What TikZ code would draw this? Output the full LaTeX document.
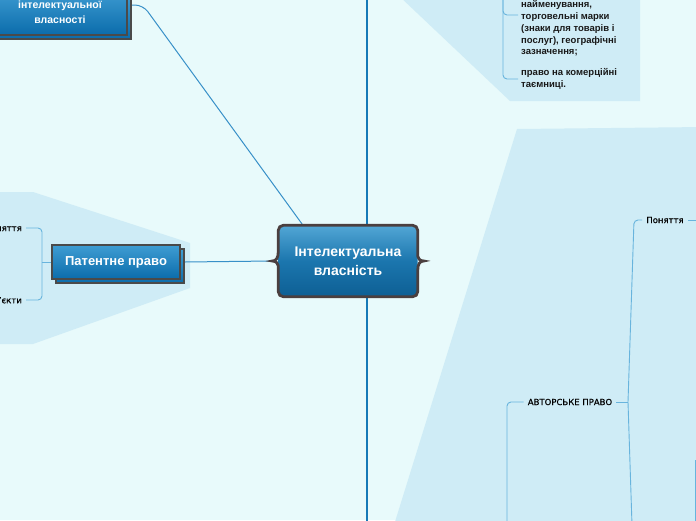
\documentclass[tikz,border=0pt]{standalone}
\usepackage{fontspec}
\setmainfont{Liberation Sans}
\newfontfamily\leaffont[FakeBold=0.5]{DejaVu Sans}
\usetikzlibrary{positioning, calc, shadows, backgrounds}
\definecolor{cbg}{HTML}{E8FAFB}
\definecolor{cpanel}{HTML}{CFECF6}
\definecolor{ctrunk}{HTML}{1679B7}
\definecolor{clink}{HTML}{3890C8}
\definecolor{csub}{HTML}{68B4DD}
\definecolor{cedge}{HTML}{4A4A4A}
\definecolor{croot}{HTML}{4B3F3F}
\definecolor{ctop}{HTML}{3F9DD3}
\definecolor{cbot}{HTML}{0B6CAB}
\definecolor{crootA}{HTML}{52A6D5}
\definecolor{crootB}{HTML}{1B76AE}
\definecolor{crootC}{HTML}{0E5F94}
\tikzset{
  every picture/.style={x=1pt, y=-1pt},
  topic/.style={draw=cedge, line width=1.4pt, top color=ctop, bottom color=cbot, text=white, align=center, inner sep=0pt,
    general shadow={shadow xshift=4pt, shadow yshift=-4pt, draw=cedge, line width=1.4pt, top color=ctop, bottom color=cbot}},
  rootbox/.style={minimum width=139pt, minimum height=71pt, rounded corners=5pt, top color=crootA, bottom color=crootC, middle color=crootB,
    text=white, font=\fontsize{14}{19}\selectfont\bfseries, align=center, inner sep=0pt},
  rootedge/.style={draw=croot, line width=2.8pt, rounded corners=5pt},
  leaf/.style={font=\leaffont\fontsize{8.5}{10}\selectfont, text=black, inner sep=4pt},
  item/.style={font=\fontsize{9.5}{11.8}\selectfont\bfseries, text=black!90, align=left, inner sep=3pt},
  trunk/.style={draw=ctrunk, line width=1.6pt},
  link/.style={draw=clink, line width=1pt},
  sub/.style={draw=csub, line width=0.9pt},
}
\begin{document}
\begin{tikzpicture}
  \useasboundingbox (0,0) rectangle (696,520);
  % topics
  \node[topic, minimum width=134pt, minimum height=46pt, font=\fontsize{10.5}{15}\selectfont\bfseries] (ipo) at (60,12) {інтелектуальної\\власності};
  \node[topic, minimum width=128pt, minimum height=34pt, font=\fontsize{13}{15}\selectfont\bfseries] (pat) at (116,262) {Патентне право};
  \node[rootbox] (root) at (348,261) {Інтелектуальна\\власність};
  \draw[rootedge] (root.north west) -- (root.north east) -- ([yshift=10pt]root.east)
    [sharp corners] .. controls ([yshift=3pt]root.east) and ([xshift=2pt]root.east) .. ([xshift=6pt]root.east)
    .. controls ([xshift=2pt]root.east) and ([yshift=-3pt]root.east) .. ([yshift=-10pt]root.east)
    [rounded corners=5pt] -- (root.south east) -- (root.south west) -- ([yshift=-10pt]root.west)
    [sharp corners] .. controls ([yshift=-3pt]root.west) and ([xshift=-2pt]root.west) .. ([xshift=-6pt]root.west)
    .. controls ([xshift=-2pt]root.west) and ([yshift=3pt]root.west) .. ([yshift=10pt]root.west)
    [rounded corners=5pt] -- cycle;
  % leaves
  \node[leaf, anchor=east] (pat-def) at (26,228) {Поняття};
  \node[leaf, anchor=east] (pat-obj) at (26,300) {Об’єкти};
  \node[item, anchor=west] (ip-marks) at (518,28.5) {найменування,\\торговельні марки\\(знаки для товарів і\\послуг), географічні\\зазначення;};
  \node[item, anchor=west] (ip-secret) at (518,79) {право на комерційні\\таємниці.};
  \node[leaf] (cr) at (570,402) {АВТОРСЬКЕ ПРАВО};
  \node[leaf] (cr-def) at (665,220) {Поняття};
  % free ends
  \coordinate (ipo-out) at (132,5);
  \coordinate (trunk-top) at (367,-5);
  \coordinate (trunk-bot) at (367,525);
  \coordinate (pat-fork) at (42,262);
  \coordinate (ip-fork) at (503,-5);
  \coordinate (cr-fork) at (507,525);
  \coordinate (cr-join) at (628,402);
  \coordinate (cr-bend) at (634,220);
  \coordinate (cr-low) at (632,525);
  \coordinate (cr-out) at (702,220);
  \coordinate (edge-low) at (695.5,460);
  \coordinate (edge-end) at (695.5,525);
  \begin{scope}[on background layer]
    \fill[cbg] (0,0) rectangle (696,520);
    % panels
    \fill[cpanel] (-5,192) -- (33,192) -- (190,243) -- (190,288) -- (33,344) -- (-5,344) -- cycle;
    \fill[cpanel] (398,-5) -- (640,-5) -- (640,101) -- (510,101) -- cycle;
    \fill[cpanel] (517,129) -- (705,127) -- (705,525) -- (394,525) -- cycle;
    % connectors
    \draw[trunk] (trunk-top) -- ([xshift=19pt]root.north);
    \draw[trunk] ([xshift=19pt]root.south) -- (trunk-bot);
    \draw[link, rounded corners=8pt] (ipo-out) -- ++(11,0) -- ([xshift=-45pt]root.north);
    \draw[link] ([xshift=4pt]pat.east) -- ([xshift=-6pt]root.west);
    \draw[sub] (pat.west) -- (pat-fork);
    \draw[sub, rounded corners=4pt] (pat-fork) |- (pat-def.east);
    \draw[sub, rounded corners=4pt] (pat-fork) |- (pat-obj.east);
    \draw[sub, rounded corners=4pt] (ip-fork) |- ([yshift=13.5pt]ip-marks.west);
    \draw[sub, rounded corners=4pt] (ip-fork) |- (ip-secret.west);
    \draw[sub, rounded corners=4pt] (cr-fork) |- (cr.west);
    \draw[sub] (cr.east) -- (cr-join);
    \draw[sub, rounded corners=4pt] (cr-join) -- (cr-bend) -- (cr-def.west);
    \draw[sub] (cr-join) -- (cr-low);
    \draw[sub] (cr-def.east) -- (cr-out);
    \draw[sub] (edge-low) -- (edge-end);
  \end{scope}
\end{tikzpicture}
\end{document}
